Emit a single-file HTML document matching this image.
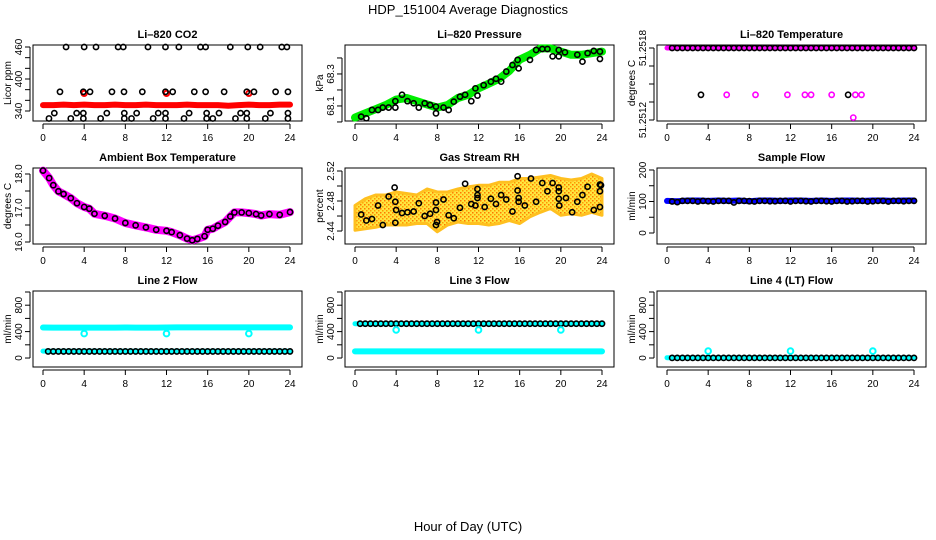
<!DOCTYPE html>
<html><head><meta charset="utf-8"><style>
html,body{margin:0;padding:0;background:#fff;}
svg{display:block;font-family:"Liberation Sans",Arial,sans-serif;}
</style></head><body>
<svg id="chart" width="936" height="540" viewBox="0 0 936 540" xmlns="http://www.w3.org/2000/svg">
<text x="468" y="14" font-size="13" text-anchor="middle">HDP_151004  Average Diagnostics</text>
<text x="468" y="531" font-size="13" text-anchor="middle">Hour of Day (UTC)</text>
</svg>
<script>
// ---- data ----
const hours = [0,1,2,3,4,5,6,7,8,9,10,11,12,13,14,15,16,17,18,19,20,21,22,23,24];
const xTicks = [0,4,8,12,16,20,24];
// CO2
const co2Red = [351,351,352,351,352,351,351,352,351,351,352,351,351,351,352,351,351,351,350,351,352,351,351,352,352];
const co2RedSpikeH = [4,12,20];
const co2RedSpikeV = [373,373,373];
const co2BlackH = [2.24,4.0,5.15,7.3,7.8,10.2,11.9,13.2,15.3,15.8,18.2,19.9,21.1,23.2,23.7,
 1.65,3.92,4.57,6.7,7.87,9.65,11.9,12.6,14.7,15.8,17.6,19.8,20.5,22.6,23.8,
 1.1,3.27,3.92,6.2,7.9,9.1,11.2,11.9,14.2,15.9,17.1,19.2,19.8,22.1,23.8,
 0.58,2.7,3.92,5.6,7.9,8.6,10.7,11.9,13.7,15.9,16.5,18.7,19.8,21.6,23.8];
const co2BlackV = [460,460,460,460,460,460,460,460,460,460,460,460,460,460,460,
 376,376,376,376,376,376,376,376,376,376,376,376,376,376,376,
 336,336,336,336,336,336,336,336,336,336,336,336,336,336,336,
 326,326,326,326,326,326,326,326,326,326,326,326,326,326,326];
// Pressure
const presGreen = [68.027,68.054,68.08,68.106,68.14,68.15,68.13,68.11,68.09,68.106,68.15,68.17,68.21,68.24,68.27,68.32,68.39,68.42,68.46,68.46,68.44,68.42,68.42,68.43,68.44];
const presBlackH = [0.6,1.1,1.65,2.24,2.7,3.27,3.92,3.92,4.57,5.1,5.7,6.2,6.77,7.3,7.87,7.87,8.6,9.1,9.6,10.2,10.7,11.3,11.7,11.9,12.5,13.2,13.7,14.2,14.7,15.3,15.8,15.9,17.0,17.6,18.2,18.7,19.2,19.8,19.8,20.4,21.6,22.1,22.6,23.2,23.8,23.8];
const presBlackV = [68.033,68.023,68.075,68.075,68.09,68.09,68.13,68.09,68.17,68.13,68.117,68.09,68.117,68.106,68.096,68.054,68.09,68.075,68.127,68.158,68.17,68.13,68.21,68.165,68.23,68.252,68.27,68.252,68.315,68.356,68.388,68.335,68.388,68.45,68.456,68.456,68.41,68.45,68.41,68.435,68.42,68.377,68.43,68.444,68.44,68.394];
// Li-820 temperature
const tempMag = [51.2518,51.2518,51.2518,51.2518,51.2518,51.2518,51.2518,51.2518,51.2518,51.2518,51.2518,51.2518,51.2518,51.2518,51.2518,51.2518,51.2518,51.2518,51.2518,51.2518,51.2518,51.2518,51.2518,51.2518,51.2518];
const tempBlackTop = [51.2518,51.2518,51.2518,51.2518,51.2518,51.2518,51.2518,51.2518,51.2518,51.2518,51.2518,51.2518,51.2518,51.2518,51.2518,51.2518,51.2518,51.2518,51.2518,51.2518,51.2518,51.2518,51.2518,51.2518,51.2518,51.2518,51.2518,51.2518,51.2518,51.2518,51.2518,51.2518,51.2518,51.2518,51.2518,51.2518,51.2518,51.2518,51.2518,51.2518,51.2518,51.2518,51.2518,51.2518,51.2518,51.2518,51.2518,51.2518];
const tempBlackOutH = [3.3,17.6];
const tempBlackOutV = [51.25141,51.25141];
const tempMagOutH = [5.8,8.6,11.7,13.4,14.0,16.0,18.3,18.9,18.1];
const tempMagOutV = [51.25141,51.25141,51.25141,51.25141,51.25141,51.25141,51.25141,51.25141,51.25122];
// Ambient box temperature
const ambH = [0,0.6,1,1.5,2,2.7,3.3,4,4.5,5,6,7,8,9,10,11,12,12.5,13.3,14,14.5,15,15.7,16,16.5,17,17.7,18.2,18.6,19.3,20,20.7,21.2,22,23,24];
const ambV = [18.1,17.88,17.67,17.49,17.41,17.29,17.14,17.03,16.98,16.83,16.77,16.69,16.56,16.49,16.43,16.36,16.33,16.29,16.2,16.1,16.05,16.09,16.17,16.36,16.39,16.48,16.59,16.75,16.87,16.87,16.85,16.82,16.78,16.82,16.8,16.88];
// Gas stream RH
const rhUpper = [2.474,2.483,2.488,2.488,2.492,2.49,2.488,2.496,2.492,2.492,2.496,2.499,2.501,2.501,2.505,2.505,2.51,2.51,2.512,2.514,2.51,2.508,2.51,2.516,2.51];
const rhLower = [2.441,2.443,2.445,2.448,2.448,2.448,2.45,2.45,2.439,2.448,2.452,2.45,2.45,2.448,2.45,2.454,2.45,2.459,2.465,2.47,2.461,2.463,2.461,2.465,2.461];
const rhBlackH = [0.6,1.1,1.65,2.24,2.7,3.27,3.85,3.92,3.92,4.0,4.57,5.1,5.7,6.2,6.77,7.3,7.87,7.87,7.87,7.97,8.6,9.1,9.6,10.2,10.7,11.3,11.7,11.9,11.9,11.9,12.6,13.2,13.7,14.2,14.7,15.3,15.8,15.8,15.9,15.9,16.5,17.1,17.6,18.2,18.7,19.2,19.8,19.8,19.8,19.85,20.5,21.1,21.6,22.1,22.6,23.2,23.8,23.8,23.8,23.9];
const rhBlackV = [2.462,2.454,2.456,2.474,2.448,2.486,2.498,2.479,2.451,2.468,2.464,2.465,2.466,2.477,2.46,2.463,2.468,2.478,2.448,2.452,2.482,2.461,2.457,2.471,2.503,2.476,2.474,2.496,2.488,2.484,2.472,2.483,2.476,2.488,2.482,2.466,2.513,2.494,2.484,2.479,2.474,2.51,2.479,2.504,2.493,2.504,2.498,2.493,2.483,2.474,2.484,2.465,2.479,2.488,2.499,2.468,2.502,2.493,2.472,2.501];
// Sample flow
const sampleBlue = [102,101,103,103,102,103,102,103,101,103,103,102,103,103,102,103,102,103,103,102,103,103,102,103,103];
const sampleBlack = [100,98,102,102,102,100,102,101,100,102,102,102,97,102,102,101,100,102,102,101,101,102,102,100,102,102,101,100,102,102,101,100,102,102,100,101,102,102,100,101,102,102,100,102,102,101,102,102];
// Line 2 flow
const line2CyanHigh = [462,460,460,461,460,461,460,460,462,461,461,461,462,463,463,463,464,464,464,464,464,464,464,464,464];
const line2CyanLow = [105,105,105,105,105,105,105,105,105,105,105,105,105,105,105,105,105,105,105,105,105,105,105,105,105];
const line2Black = [100,100,100,100,100,100,100,100,100,100,100,100,100,100,100,100,100,100,100,100,100,100,100,100,100,100,100,100,100,100,100,100,100,100,100,100,100,100,100,100,100,100,100,100,100,100,100,100];
const line2OutH = [4,12,20];
const line2OutV = [370,370,370];
// Line 3 flow
const line3CyanHigh = [520,520,520,520,520,520,520,520,520,520,520,520,520,520,520,520,520,520,520,520,520,520,520,520,520];
const line3CyanLow = [100,100,100,100,100,100,100,100,100,100,100,100,100,100,100,100,100,100,100,100,100,100,100,100,100];
const line3Black = [520,520,520,520,520,520,520,520,520,520,520,520,520,520,520,520,520,520,520,520,520,520,520,520,520,520,520,520,520,520,520,520,520,520,520,520,520,520,520,520,520,520,520,520,520,520,520,520];
const line3OutH = [4,12,20];
const line3OutV = [425,425,425];
// Line 4 flow
const line4Cyan = [5,5,5,5,5,5,5,5,5,5,5,5,5,5,5,5,5,5,5,5,5,5,5,5,5];
const line4Black = [2,2,2,2,2,2,2,2,2,2,2,2,2,2,2,2,2,2,2,2,2,2,2,2,2,2,2,2,2,2,2,2,2,2,2,2,2,2,2,2,2,2,2,2,2,2,2,2];
const line4OutH = [4,12,20];
const line4OutV = [105,105,105];

// ---- drawing ----
const NS = "http://www.w3.org/2000/svg";
const svg = document.getElementById('chart');
function mk(tag, attrs, parent) {
  const e = document.createElementNS(NS, tag);
  for (const k in attrs) e.setAttribute(k, attrs[k]);
  (parent || svg).appendChild(e);
  return e;
}
const rowTop = [45,168,291], rowBot = [121,244,367];

function panel(col, row, name, title, ylab, dom, yticks, ylabels) {
  const L = 33 + 312*col, R = L + 269, T = rowTop[row], B = rowBot[row];
  const g = mk('g', {});
  
  
  const sx = h => L + 10 + h*247/24;
  const sy = v => T + (dom[1]-v)/(dom[1]-dom[0])*(B-T);
  const box = mk('rect', {x:L, y:T, width:R-L, height:B-T, fill:'none', stroke:'#000', 'stroke-width':1}, g);
  
  
  const t = mk('text', {x:(L+R)/2, y:T-7, 'font-size':11, 'font-weight':'bold', 'text-anchor':'middle'}, g);
  t.textContent = title;
  
  
  const yl = mk('text', {x:L-22, y:(T+B)/2, 'font-size':10, 'text-anchor':'middle', transform:`rotate(-90 ${L-22} ${(T+B)/2})`}, g);
  yl.textContent = ylab;
  
  
  const xa = mk('g', {}, g);
  
  
  mk('line', {x1:sx(xTicks[0]), x2:sx(xTicks[xTicks.length-1]), y1:B+3, y2:B+3, stroke:'#000'}, xa);
  xTicks.forEach(v => {
    mk('line', {x1:sx(v), x2:sx(v), y1:B+3, y2:B+8, stroke:'#000'}, xa);
    const tl = mk('text', {x:sx(v), y:B+20, 'font-size':10, 'text-anchor':'middle'}, xa);
    tl.textContent = v;
    
    
  });
  const ya = mk('g', {}, g);
  
  
  mk('line', {x1:L-3, x2:L-3, y1:sy(yticks[0]), y2:sy(yticks[yticks.length-1]), stroke:'#000'}, ya);
  yticks.forEach(v => mk('line', {x1:L-8, x2:L-3, y1:sy(v), y2:sy(v), stroke:'#000'}, ya));
  ylabels.forEach(v => {
    const yy = sy(v);
    const tl = mk('text', {x:L-11, y:yy, 'font-size':10, 'text-anchor':'middle', transform:`rotate(-90 ${L-11} ${yy})`}, ya);
    tl.textContent = v;
    
    
  });
  const data = mk('g', {}, g);
  
  
  return {sx, sy, g:data};
}
function band(p, hs, vs, color, w, name) {
  const pts = hs.map((h,i) => p.sx(h).toFixed(1)+','+p.sy(vs[i]).toFixed(1)).join(' ');
  const e = mk('polyline', {points:pts, fill:'none', stroke:color, 'stroke-width':w, 'stroke-linejoin':'round', 'stroke-linecap':'round'}, p.g);
  
  
}
function pts(p, hs, vs, color, name, r, sw) {
  hs.forEach((h,i) => {
    const c = mk('circle', {cx:p.sx(h), cy:p.sy(vs[i]), r:r||2.6, fill:'none', stroke:color, 'stroke-width':sw||1.6}, p.g);
    
    
  });
}
const halfH = line2Black.map((_, i) => 0.5*(i+1));

let p = panel(0,0,'co2','Li\u2013820 CO2','Licor ppm',[321.25,463.75],[340,360,380,400,420,440,460],[340,400,460]);
band(p, hours, co2Red, '#ff0000', 6, 'co2-red-band');
pts(p, co2RedSpikeH, co2RedSpikeV, '#ff0000', 'co2-red-point', 2.6, 2);
pts(p, co2BlackH, co2BlackV, '#000', 'co2-black-point');

p = panel(1,0,'pressure','Li\u2013820 Pressure','kPa',[68.006,68.481],[68.0,68.1,68.2,68.3,68.4],[68.1,68.3]);
band(p, hours, presGreen, '#00ee00', 8, 'pressure-green-band');
pts(p, presBlackH, presBlackV, '#000', 'pressure-black-point');

p = panel(2,0,'li820-temp','Li\u2013820 Temperature','degrees C',[51.2511917,51.251825],[51.2512,51.25135,51.2515,51.25165,51.2518],[51.2512,51.2518]);
band(p, hours, tempMag, '#ff00ff', 5, 'temp-magenta-band');
pts(p, halfH, tempBlackTop, '#000', 'temp-black-point');
pts(p, tempBlackOutH, tempBlackOutV, '#000', 'temp-black-outlier');
pts(p, tempMagOutH, tempMagOutV, '#ff00ff', 'temp-magenta-outlier');

p = panel(0,1,'ambient','Ambient Box Temperature','degrees C',[15.941,18.176],[16,16.5,17,17.5,18],['16.0','17.0','18.0']);
band(p, ambH, ambV, '#ff00ff', 8, 'ambient-magenta-band');
pts(p, ambH, ambV, '#000', 'ambient-black-point');

p = panel(1,1,'rh','Gas Stream RH','percent',[2.4227,2.524],[2.44,2.46,2.48,2.50,2.52],['2.44','2.48','2.52']);
{
  const up = hours.map((h,i) => p.sx(h).toFixed(1)+','+p.sy(rhUpper[i]).toFixed(1));
  const lo = hours.map((h,i) => p.sx(h).toFixed(1)+','+p.sy(rhLower[i]).toFixed(1)).reverse();
  const defs = mk('defs', {});
  const pat = mk('pattern', {id:'rhpat', width:4, height:4, patternUnits:'userSpaceOnUse'}, defs);
  mk('rect', {width:4, height:4, fill:'#ffe640'}, pat);
  mk('rect', {x:0, y:0, width:1.5, height:1.5, fill:'#ff7700'}, pat);
  mk('rect', {x:2, y:2, width:1.5, height:1.5, fill:'#ff9900'}, pat);
  const poly = mk('polygon', {points:up.concat(lo).join(' '), fill:'url(#rhpat)', stroke:'#ffc020', 'stroke-width':3, 'stroke-linejoin':'round'}, p.g);
  
  
}
pts(p, rhBlackH, rhBlackV, '#000', 'rh-black-point');

p = panel(2,1,'sample-flow','Sample Flow','ml/min',[-34.9,206.3],[0,50,100,150,200],[0,100,200]);
band(p, hours, sampleBlue, '#0000ff', 6, 'sample-blue-band');
pts(p, halfH, sampleBlack, '#000', 'sample-black-point');

const flowTicks = [0,200,400,600,800,1000], flowLabels = [0,400,800];
p = panel(0,2,'line2','Line 2 Flow','ml/min',[-136,1015],flowTicks,flowLabels);
band(p, hours, line2CyanHigh, '#00ffff', 6, 'line2-cyan-high-band');
band(p, hours, line2CyanLow, '#00ffff', 5, 'line2-cyan-low-band');
pts(p, halfH, line2Black, '#000', 'line2-black-point');
pts(p, line2OutH, line2OutV, '#00ffff', 'line2-cyan-outlier', 2.8, 2);

p = panel(1,2,'line3','Line 3 Flow','ml/min',[-136,1015],flowTicks,flowLabels);
band(p, hours, line3CyanHigh, '#00ffff', 5, 'line3-cyan-high-band');
band(p, hours, line3CyanLow, '#00ffff', 6, 'line3-cyan-low-band');
pts(p, halfH, line3Black, '#000', 'line3-black-point');
pts(p, line3OutH, line3OutV, '#00ffff', 'line3-cyan-outlier', 2.8, 2);

p = panel(2,2,'line4','Line 4 (LT) Flow','ml/min',[-136,1015],flowTicks,flowLabels);
band(p, hours, line4Cyan, '#00ffff', 5, 'line4-cyan-band');
pts(p, halfH, line4Black, '#000', 'line4-black-point');
pts(p, line4OutH, line4OutV, '#00ffff', 'line4-cyan-outlier', 2.8, 2);
</script>
</body></html>
